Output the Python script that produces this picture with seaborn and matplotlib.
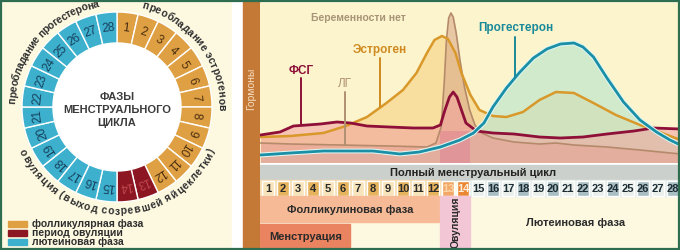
import matplotlib
matplotlib.use("Agg")

import matplotlib.pyplot as plt
import matplotlib.patheffects as pe
import numpy as np
import seaborn as sns
from matplotlib.font_manager import FontProperties
from matplotlib.patches import Rectangle, Circle
from matplotlib.textpath import TextToPath

W, H = 680, 250
FONT = "Liberation Sans"

# ring with the 28 days of the cycle
ring_days = list(range(1, 29))
ring_phase = ["fol"] * 12 + ["ovu"] * 2 + ["lut"] * 14
phase_colors = {"fol": "#dfa043", "ovu": "#8c1722", "lut": "#3db0cd"}
phase_text = {"fol": "#4a2e10", "ovu": "#c0474e", "lut": "#17405c"}
legend_keys = ["fol", "ovu", "lut"]
legend_labels = ["фолликулярная фаза", "период овуляции", "лютеиновая фаза"]

# hormone curves: day of cycle / relative level
fsh_day = [0.5, 1.8, 2.7, 3.6, 4.5, 5.6, 6.5, 7.6, 9.1, 10.7, 12.0, 12.5, 12.8, 13.1, 13.35,
           13.6, 13.9, 14.2, 14.9, 16.0, 17.4, 19.1, 20.5, 22.0, 23.6, 25.4, 26.7, 28.5]
fsh_level = [28, 31, 37, 38, 39, 41, 40, 37, 36, 35, 35, 38, 53, 66, 71,
             66, 53, 40, 32, 30, 29, 26, 25, 26, 29, 32, 35, 34]

lh_day = [0.5, 2.5, 5.8, 9.1, 11.6, 12.2, 12.55, 12.75, 12.9, 13.05, 13.2, 13.35, 13.55,
          13.8, 14.1, 14.45, 14.8, 15.25, 16.0, 17.4, 19.1, 20.2, 21.4, 23.6, 25.8, 28.5]
lh_level = [20, 19, 18, 17, 16, 20, 36, 80, 123, 145, 150, 146, 130,
            103, 76, 53, 38, 30, 25, 21, 19, 20, 18, 16, 13, 9]

est_day = [0.5, 2.5, 4.7, 6.2, 7.6, 8.9, 10.0, 10.9, 11.6, 12.1, 12.6, 13.0, 13.5, 13.9,
           14.5, 15.1, 16.0, 16.9, 18.0, 19.1, 20.2, 21.4, 22.7, 24.2, 25.8, 27.1, 28.5]
est_level = [26, 27, 30, 37, 46, 60, 73, 90, 110, 123, 127, 124, 110, 90,
             68, 53, 47, 46, 51, 63, 71, 70, 60, 48, 38, 31, 23]

prog_day = [0.5, 2.5, 4.7, 8.0, 9.8, 11.1, 12.5, 13.8, 14.7, 15.4, 16.0, 16.9, 17.8,
            18.7, 19.6, 20.5, 21.4, 22.0, 22.7, 23.6, 24.7, 25.8, 26.9, 27.8, 28.5]
prog_level = [8, 10, 12, 12, 9, 11, 16, 23, 30, 40, 56, 75, 91,
              105, 114, 119, 120, 116, 106, 85, 61, 43, 31, 23, 18]

# day strip under the chart
cycle_days = list(range(1, 29))
cell_colors = (["#f8e4bb", "#e7b45e"] * 6 + ["#f2a766", "#eb8633"]
               + ["#e9f0ec", "#a9bec3"] * 7)
cell_text = ["#2b2b2b"] * 12 + ["#fbd6a8", "#fff0dc"] + ["#1d2b33"] * 14

# phases (start day, end day)
follicular = (0.47, 12.5)
menstruation = (0.47, 6.5)
ovulation = (12.5, 14.5)
luteal = (14.5, 28.47)

sns.set_theme(style="white")
plt.rcParams["font.family"] = [FONT, "DejaVu Sans"]

fig = plt.figure(figsize=(W / 100, H / 100), dpi=100, facecolor="#fdf9e1")


def px_axes(x0, y0, x1, y1):
    return fig.add_axes([x0 / W, 1 - y1 / H, (x1 - x0) / W, (y1 - y0) / H])


def arc_text(ax, s, theta0, theta1, r, outward, size=7.5, color="#2f2f2f"):
    # letters spread along the arc in proportion to their widths
    prop = FontProperties(family=FONT, weight="bold", size=size)
    ttp = TextToPath()
    width = lambda t: ttp.get_text_width_height_descent(t, prop, ismath=False)[0]
    total = width(s)
    for i, c in enumerate(s):
        if c == " ":
            continue
        centre = width(s[:i + 1]) - width(c) / 2
        th = theta0 + (theta1 - theta0) * centre / total
        rad = np.deg2rad(th)
        rot = -th if outward else 180 - th
        ax.text(r * np.sin(rad), r * np.cos(rad), c, rotation=rot, rotation_mode="anchor",
                ha="center", va="center", fontproperties=prop, color=color, clip_on=False)


# background panels
bg = px_axes(0, 0, W, H)
bg.set_xlim(0, W)
bg.set_ylim(H, 0)
bg.axis("off")
bg.add_patch(Rectangle((0, 0), 232, H, color="#fdf9e1"))
bg.add_patch(Rectangle((232, 0), 11, H, color="#ffffff"))
bg.add_patch(Rectangle((243, 0), 16, H, color="#c47a36"))
bg.text(251.5, 89, "Гормоны", rotation=90, ha="center", va="center",
        fontsize=7.5, color="#f6dcc0")

for i, (key, label) in enumerate(zip(legend_keys, legend_labels)):
    y = 224 + i * 9
    bg.add_patch(Rectangle((8, y - 3), 19, 6, color=phase_colors[key]))
    bg.text(32, y, label, va="center", ha="left", fontsize=7.5,
            fontweight="bold", color="#2e2e2e")

# ring
ring = px_axes(0, 0, 234, 214)
ring.pie([1] * len(ring_days), colors=[phase_colors[p] for p in ring_phase],
         startangle=90, counterclock=False, radius=1,
         wedgeprops=dict(width=31 / 95, edgecolor="white", linewidth=1))
ring.set_aspect("auto")
ring.set_xlim(-117 / 95, 117 / 95)
ring.set_ylim(-107 / 95, 107 / 95)
ring.add_patch(Circle((0, 0), 64 / 95, color="white", zorder=0))
ring.axis("off")

step = 360 / len(ring_days)
for i, (d, p) in enumerate(zip(ring_days, ring_phase)):
    th = (i + 0.5) * step
    rad = np.deg2rad(th)
    ring.text(0.835 * np.sin(rad), 0.835 * np.cos(rad), str(d), rotation=-th,
              rotation_mode="anchor", ha="center", va="center", fontsize=8.5,
              color=phase_text[p])

ring.text(0, -0.03, "ФАЗЫ\nМЕНСТРУАЛЬНОГО\nЦИКЛА", ha="center", va="center",
          fontsize=8, fontweight="bold", color="#3b3b3b", linespacing=1.35)

arc_text(ring, "преобладание прогестерона", 272, 350, 1.1, True)
arc_text(ring, "преобладание эстрогенов", 14, 92, 1.1, True)
arc_text(ring, "овуляция (выход созревшей яйцеклетки)", 246, 114, 1.1, False)

# hormone chart
ax = px_axes(260, 3, 680, 163)
ax.set_facecolor("#fcf4cc")
ax.fill_between(est_day, est_level, color="#f5cf7a", alpha=0.55, lw=0)
ax.fill_between(prog_day, prog_level, color="#bfe6cc", alpha=0.7, lw=0)
ax.fill_between(lh_day, lh_level, color="#d9a98a", alpha=0.6, lw=0)
ax.fill_between(fsh_day, fsh_level, color="#f2a0a0", alpha=0.55, lw=0)
ax.axvspan(ovulation[0], ovulation[1], ymax=0.2, color="#d8508a", alpha=0.25, lw=0)

sns.lineplot(x=lh_day, y=lh_level, ax=ax, color="#b58a6a", linewidth=1.2)
sns.lineplot(x=est_day, y=est_level, ax=ax, color="#d9982a", linewidth=1.8)
sns.lineplot(x=fsh_day, y=fsh_level, ax=ax, color="#8e1038", linewidth=2)
sns.lineplot(x=prog_day, y=prog_level, ax=ax, color="#1a8fa6", linewidth=2,
             path_effects=[pe.Stroke(linewidth=3.5, foreground="#dff6f2"), pe.Normal()])

labels = [
    ("Беременности нет", 7.0, 145, "#a89478", "bold", 7.5, None),
    ("Прогестерон", 17.5, 135, "#1a8a9a", "bold", 8.5, (126, 86)),
    ("Эстроген", 8.47, 113, "#d08a20", "bold", 8.5, (105, 56)),
    ("ФСГ", 3.2, 92, "#8e1038", "bold", 8.5, (85, 38)),
    ("ЛГ", 6.13, 79, "#b09070", "normal", 8.5, (71, 18)),
]
for text, x, y, col, wt, fs, lead in labels:
    ax.text(x, y, text, ha="center", va="center", color=col, fontweight=wt, fontsize=fs)
    if lead:
        ax.plot([x, x], lead, color=col, lw=1.4)

ax.set_xlim(0.47, 28.47)
ax.set_ylim(0, 160)
ax.set_xticks([])
ax.set_yticks([])
sns.despine(ax=ax, left=True, bottom=True)

# day strip and phases
bx = px_axes(260, 163, 680, 248)
bx.set_facecolor("#fde7b0")
bx.set_xlim(0.47, 28.47)
bx.set_ylim(248, 163)
bx.axis("off")
bx.add_patch(Rectangle((0.47, 163), 28, 2, color="white"))
bx.add_patch(Rectangle((0.47, 165), 28, 15, color="#cbd0cc"))
bx.text(14.67, 172.5, "Полный менструальный цикл", ha="center", va="center",
        fontsize=8, fontweight="bold", color="#222222")
bx.add_patch(Rectangle((0.47, 180), 12.03, 16, color="#f6dcae"))
bx.add_patch(Rectangle((14.5, 180), 14, 16, color="#e6eeea"))
bx.bar(cycle_days, 15, bottom=180.5, width=0.82, color=cell_colors)
for d, tc in zip(cycle_days, cell_text):
    bx.text(d, 188.5, str(d), ha="center", va="center", fontsize=8,
            fontweight="bold", color=tc)

bx.add_patch(Rectangle((follicular[0], 196), follicular[1] - follicular[0], 26, color="#f6ba96"))
bx.add_patch(Rectangle((menstruation[0], 224), menstruation[1] - menstruation[0], 24, color="#ea8360"))
bx.add_patch(Rectangle((ovulation[0], 196), ovulation[1] - ovulation[0], 52, color="#f3c6d6"))
bx.text(sum(follicular) / 2, 209.5, "Фолликулиновая фаза", ha="center", va="center",
        fontsize=8, fontweight="bold", color="#2a2a2a")
bx.text(sum(menstruation) / 2, 237, "Менструация", ha="center", va="center",
        fontsize=8, fontweight="bold", color="#2a2a2a")
bx.text(sum(ovulation) / 2, 222, "Овуляция", rotation=90, ha="center", va="center",
        fontsize=7.5, fontweight="bold", color="#2a2a2a")
bx.text(sum(luteal) / 2, 223, "Лютеиновая фаза", ha="center", va="center",
        fontsize=8, fontweight="bold", color="#2a2a2a")

# frame
ov = px_axes(0, 0, W, H)
ov.set_xlim(0, W)
ov.set_ylim(H, 0)
ov.axis("off")
ov.patch.set_alpha(0)
ov.add_patch(Rectangle((0.8, 0.8), W - 1.6, H - 1.6, fill=False, ec="#2f6d50", lw=1.6))

fig.savefig("out.png", dpi=100)
